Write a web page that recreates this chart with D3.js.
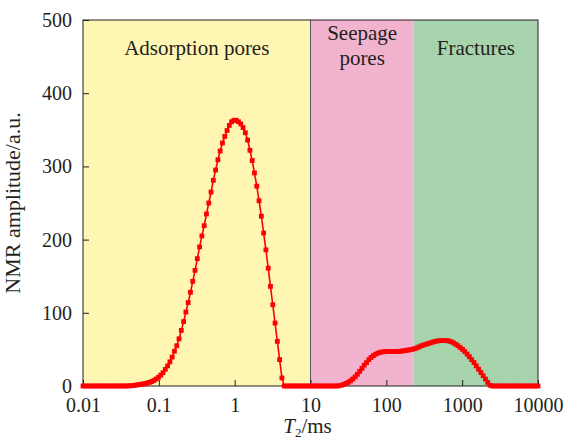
<!DOCTYPE html>
<html>
<head>
<meta charset="utf-8">
<script src="https://cdn.jsdelivr.net/npm/d3@7"></script>
<style>
  body { margin: 0; background: #fff; }
  text { font-family: "Liberation Serif", "Times New Roman", serif; fill: #231f20; }
</style>
</head>
<body>
<script>
// T2 spectrum, 200 points log-spaced between t2Min and t2Max
const t2Min = 0.01, t2Max = 10000;
const amplitude = [
  0, 0, 0, 0, 0, 0, 0, 0, 0, 0,
  0, 0, 0, 0, 0, 0, 0, 0, 0, 0,
  0.2, 0.4, 0.7, 1.1, 1.6, 2.1, 2.6, 3.2, 4.0, 4.9,
  6.0, 7.5, 9.5, 11.8, 14.8, 18.2, 22.8, 27.4, 33, 39.5,
  47.5, 55, 64.5, 76, 88, 101, 114, 128, 143, 158,
  174, 190, 205, 219, 235, 250, 265, 281, 295, 309,
  321, 332, 341, 349, 356, 361, 363, 363, 361, 358,
  353, 346, 336, 322, 308, 291, 273, 253, 232, 209,
  186, 161, 136, 111, 86, 61, 36, 11, 0, 0,
  0, 0, 0, 0, 0, 0, 0, 0, 0, 0,
  0, 0, 0, 0, 0, 0, 0, 0, 0, 0,
  0, 0, 0.3, 1, 2, 3.5, 5, 7, 9.5, 12.5,
  16, 20, 24, 28.5, 32, 36, 39, 41.5, 43.5, 45,
  46, 46.5, 47, 47, 47, 47, 47, 47, 47, 47.5,
  48, 48.5, 49, 49.5, 50, 51, 52, 53.5, 55, 56,
  57, 58, 59, 60, 61, 61.5, 62, 62, 62, 62,
  61.5, 60.5, 59, 57, 55, 52.5, 50, 47, 43.5, 40,
  36, 32, 27.5, 23, 18.5, 14, 9.5, 5, 1, 0,
  0, 0, 0, 0, 0, 0, 0, 0, 0, 0,
  0, 0, 0, 0, 0, 0, 0, 0, 0, 0
];
const t2 = amplitude.map((d, i) => t2Min * Math.pow(t2Max / t2Min, i / (amplitude.length - 1)));

// pore type zones
const zoneEdges = [0.01, 10, 230, 10000];
const zoneNames = [["Adsorption pores"], ["Seepage", "pores"], ["Fractures"]];
const zoneColors = ["#fef6b2", "#f2b3cf", "#a7d3ad"];

const xTicks = [0.01, 0.1, 1, 10, 100, 1000, 10000];
const xTickLabels = ["0.01", "0.1", "1", "10", "100", "1000", "10000"];
const yTicks = [0, 100, 200, 300, 400, 500];

var margin = {top: 20, right: 28, bottom: 55, left: 83}
  , width = 566 - margin.left - margin.right
  , height = 441 - margin.top - margin.bottom;

const xScale = d3.scaleLog().domain([t2Min, t2Max]).range([0, width]);
const yScale = d3.scaleLinear().domain([0, 500]).range([height, 0]);

const svg = d3.select('body').append('svg')
  .attr('width', 566)
  .attr('height', 441)
  .append('g')
    .attr('transform', 'translate(' + margin.left + ',' + margin.top + ')');

// background zones
svg.selectAll('.zone')
  .data(zoneColors)
  .enter().append('rect')
    .attr('x', (d, i) => xScale(zoneEdges[i]))
    .attr('y', 0)
    .attr('width', (d, i) => xScale(zoneEdges[i + 1]) - xScale(zoneEdges[i]))
    .attr('height', height)
    .attr('fill', d => d);

// dark divider at 10 ms
svg.append('line')
  .attr('x1', xScale(zoneEdges[1])).attr('x2', xScale(zoneEdges[1]))
  .attr('y1', 0).attr('y2', height)
  .attr('stroke', '#555').attr('stroke-width', 1);

// zone labels
zoneNames.forEach(function(lines, i) {
  const cx = (xScale(zoneEdges[i]) + xScale(zoneEdges[i + 1])) / 2;
  const y0 = lines.length > 1 ? 20 : 35;
  lines.forEach(function(s, j) {
    svg.append('text')
      .attr('x', cx)
      .attr('y', y0 + j * 25)
      .attr('text-anchor', 'middle')
      .attr('font-size', 21)
      .text(s);
  });
});

// axes
const xAxis = svg.append('g')
  .attr('transform', 'translate(0,' + height + ')')
  .call(d3.axisBottom(xScale).tickValues(xTicks).tickSize(-6).tickPadding(12)
    .tickFormat((d, i) => xTickLabels[i]));
const yAxis = svg.append('g')
  .call(d3.axisLeft(yScale).tickValues(yTicks).tickSize(-6).tickPadding(11));
[xAxis, yAxis].forEach(function(a) {
  a.select('.domain').remove();
  a.selectAll('line').attr('stroke', '#231f20');
  a.selectAll('text').attr('font-size', 20).attr('fill', '#231f20')
    .style('font-family', '"Liberation Serif", serif');
});

// frame
svg.append('rect')
  .attr('width', width).attr('height', height)
  .attr('fill', 'none').attr('stroke', '#231f20').attr('stroke-width', 1);

// curve
const line = d3.line()
  .x((d, i) => xScale(t2[i]))
  .y(d => yScale(d));

svg.append('path')
  .datum(amplitude)
  .attr('fill', 'none')
  .attr('stroke', '#ff0000')
  .attr('stroke-width', 1.6)
  .attr('d', line);

svg.selectAll('.dot')
  .data(amplitude)
  .enter().append('rect')
    .attr('class', 'dot')
    .attr('x', (d, i) => xScale(t2[i]) - 2.4)
    .attr('y', d => yScale(d) - 2.4)
    .attr('width', 4.8)
    .attr('height', 4.8)
    .attr('fill', '#ff0000');

// axis titles
const xt = svg.append('text')
  .attr('x', width / 2 - 3)
  .attr('y', height + 47)
  .attr('text-anchor', 'middle')
  .attr('font-size', 21);
xt.append('tspan').attr('font-style', 'italic').text('T');
xt.append('tspan').attr('font-size', 13).attr('dy', 4).text('2');
xt.append('tspan').attr('dy', -4).text('/ms');

svg.append('text')
  .attr('transform', 'translate(' + (-63) + ',' + (height / 2) + ') rotate(-90)')
  .attr('text-anchor', 'middle')
  .attr('font-size', 22)
  .text('NMR amplitude/a.u.');
</script>
</body>
</html>
